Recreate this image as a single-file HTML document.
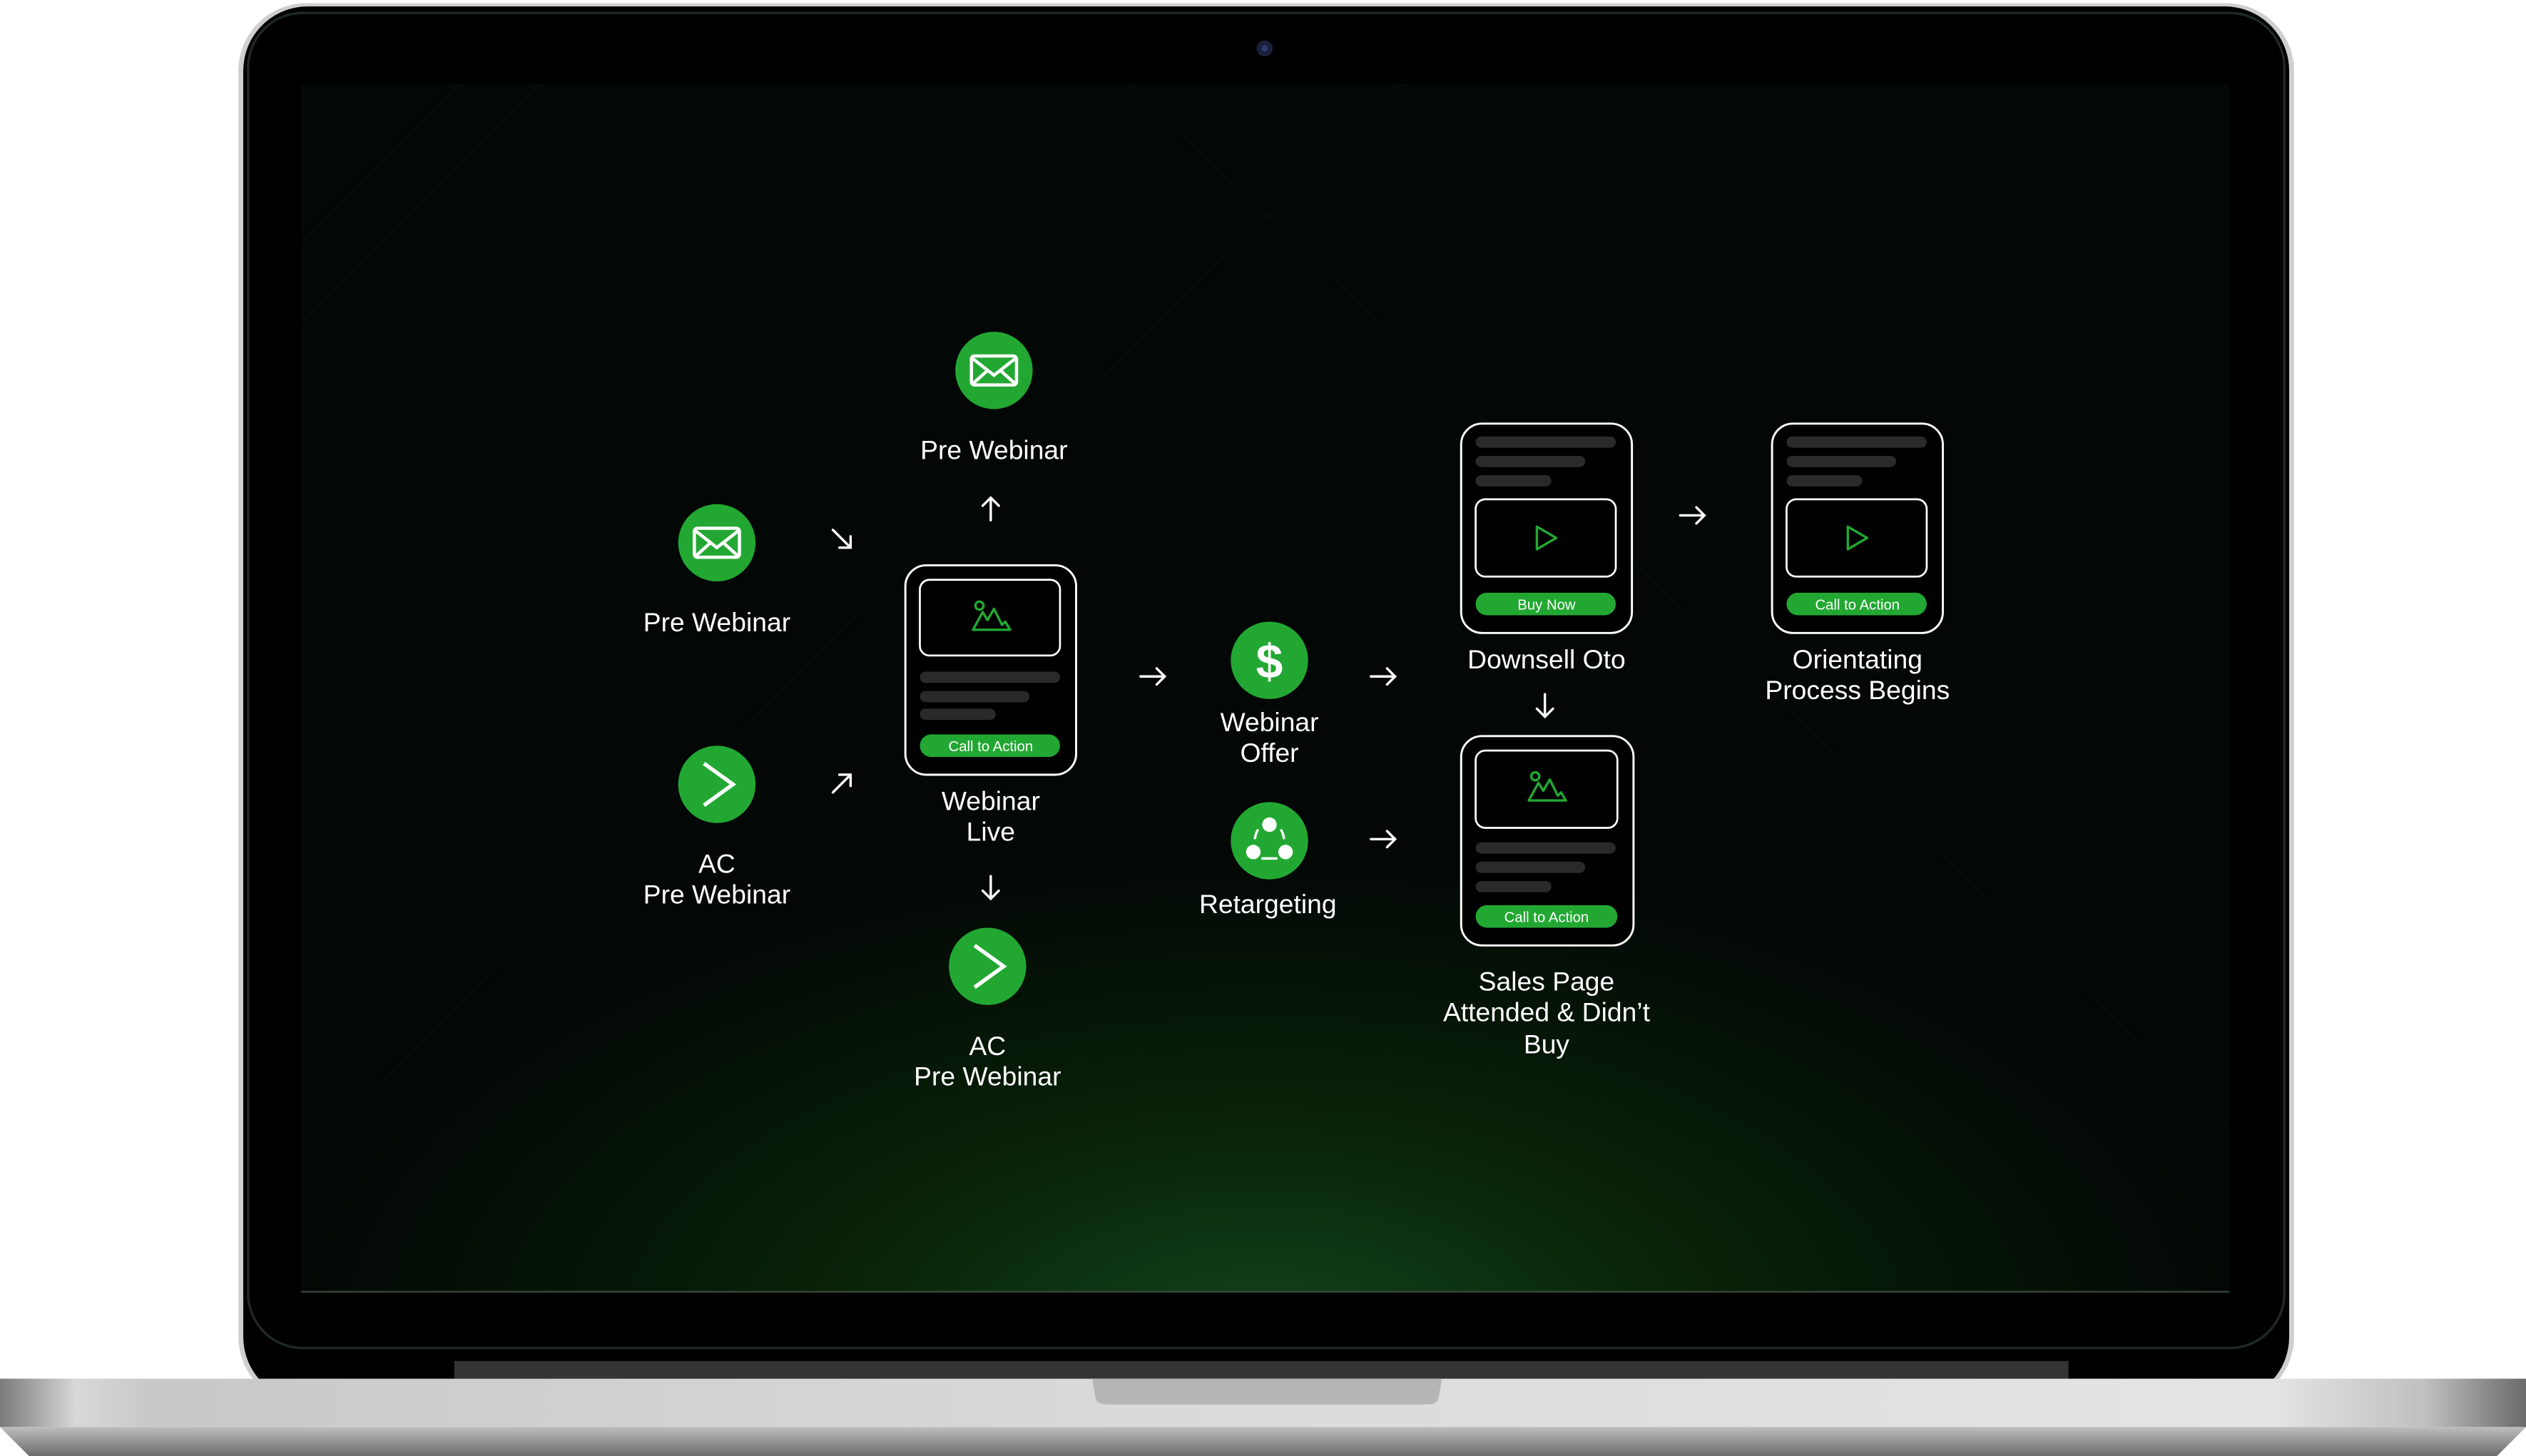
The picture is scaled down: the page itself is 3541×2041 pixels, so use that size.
<!DOCTYPE html>
<html><head><meta charset="utf-8">
<style>
html,body{margin:0;padding:0;background:#fff;}
svg{display:block;width:3541px;height:2041px;}
text{font-family:"Liberation Sans",sans-serif;fill:#fff;}
</style></head><body>
<svg viewBox="0 0 1568 904" preserveAspectRatio="none" xmlns="http://www.w3.org/2000/svg">
<defs>
<radialGradient id="glow" cx="785" cy="830" r="600" gradientUnits="userSpaceOnUse" gradientTransform="translate(785 830) scale(1 0.5) translate(-785 -830)">
<stop offset="0" stop-color="#11441a"/><stop offset="0.45" stop-color="#082208"/><stop offset="1" stop-color="#030705"/>
</radialGradient>
<linearGradient id="base" x1="0" x2="1" y1="0" y2="0">
<stop offset="0" stop-color="#7a7a7a"/><stop offset="0.03" stop-color="#d8d8d8"/><stop offset="0.06" stop-color="#c8c8c8"/><stop offset="0.45" stop-color="#dadada"/><stop offset="0.9" stop-color="#e4e4e4"/><stop offset="0.96" stop-color="#c0c0c0"/><stop offset="1" stop-color="#6a6a6a"/>
</linearGradient>
<linearGradient id="base2" x1="0" x2="0" y1="0" y2="1">
<stop offset="0" stop-color="#bdbdbd"/><stop offset="1" stop-color="#6c6c6c"/>
</linearGradient>
<g id="env"><circle r="24" fill="#22a832"/><rect x="-14" y="-9" width="28" height="18" rx="2" fill="none" stroke="#fff" stroke-width="2"/><path d="M-14 -8 L0 3 L14 -8 M-14 9 L-4 0 M14 9 L4 0" fill="none" stroke="#fff" stroke-width="2"/></g>
<g id="ac"><circle r="24" fill="#22a832"/><path d="M-8 -13 L10 0 L-8 13" fill="none" stroke="#fff" stroke-width="2.4"/></g>
<g id="img"><circle cx="-7" cy="-10" r="2.5" fill="none" stroke="#22a832" stroke-width="1.5"/><path d="M-11 5 L-5 -6 L-2 -1 L2 -8 L7 2 L9 0 L12 5 Z" fill="none" stroke="#22a832" stroke-width="1.5" stroke-linejoin="round"/></g>
</defs>

<rect x="148" y="2" width="1276" height="870" rx="42" fill="#cfcfcf"/>
<rect x="151" y="4" width="1270" height="866" rx="40" fill="#000"/>
<rect x="154" y="8" width="1264" height="829" rx="34" fill="none" stroke="#1f2a22" stroke-width="1.5"/>
<circle cx="785" cy="30" r="5" fill="#1a1f3a"/><circle cx="785" cy="30" r="2" fill="#2e3a70"/>
<rect x="187" y="52" width="1197" height="750" fill="url(#glow)"/>
<g stroke="#0c1c0f" stroke-width="1" opacity="0.35" fill="none">
<path d="M187 150 L285 52 M187 200 L335 52"/>
<path d="M700 52 L1384 700"/>
<path d="M870 52 L187 720"/>
</g>
<line x1="187" y1="802" x2="1384" y2="802" stroke="#3a4a3c" stroke-width="1"/>
<rect x="282" y="845" width="1002" height="11" fill="#343434"/>
<rect x="0" y="856" width="1568" height="30" fill="url(#base)"/>
<path d="M0 886 L1568 886 L1550 904 L18 904 Z" fill="url(#base2)"/>
<path d="M678 856 L895 856 L893 868 Q892 872 886 872 L687 872 Q681 872 680 868 Z" fill="#b5b5b5"/>

<use href="#env" x="617" y="230"/>
<use href="#env" x="445" y="337"/>
<use href="#ac" x="445" y="487"/>
<use href="#ac" x="613" y="600"/>
<circle cx="788" cy="410" r="24" fill="#22a832"/>
<text x="788" y="421" font-size="30" font-weight="bold" text-anchor="middle">$</text>
<circle cx="788" cy="522" r="24" fill="#22a832"/>
<g fill="#fff"><circle cx="788" cy="512" r="4.5"/><circle cx="778" cy="529" r="4.5"/><circle cx="798" cy="529" r="4.5"/></g>
<path d="M781 515 A12 12 0 0 0 779 521 M795 515 A12 12 0 0 1 797 521 M783 533 L793 533" stroke="#fff" stroke-width="1.5" fill="none"/>

<g font-size="16.5" text-anchor="middle">
<text x="617" y="285">Pre Webinar</text>
<text x="445" y="392">Pre Webinar</text>
<text x="445" y="542">AC</text><text x="445" y="561">Pre Webinar</text>
<text x="613" y="655">AC</text><text x="613" y="674">Pre Webinar</text>
<text x="615" y="503">Webinar</text><text x="615" y="522">Live</text>
<text x="788" y="454">Webinar</text><text x="788" y="473">Offer</text>
<text x="787" y="567">Retargeting</text>
<text x="960" y="415">Downsell Oto</text>
<text x="1153" y="415">Orientating</text><text x="1153" y="434">Process Begins</text>
<text x="960" y="615">Sales Page</text><text x="960" y="634">Attended &amp; Didn’t</text><text x="960" y="654">Buy</text>
</g>

<g stroke="#fff" stroke-width="1.5" fill="none" stroke-linecap="round">
<path d="M517 329 L528 340 M528 333 L528 340 L521 340"/>
<path d="M517 492 L528 481 M521 481 L528 481 L528 488"/>
<path d="M615 323 L615 309 M610 314 L615 309 L620 314"/>
<path d="M615 544 L615 558 M610 553 L615 558 L620 553"/>
<path d="M708 420 L723 420 M718 415 L723 420 L718 425"/>
<path d="M851 420 L866 420 M861 415 L866 420 L861 425"/>
<path d="M851 521 L866 521 M861 516 L866 521 L861 526"/>
<path d="M1043 320 L1058 320 M1053 315 L1058 320 L1053 325"/>
<path d="M959 431 L959 445 M954 440 L959 445 L964 440"/>
</g>

<rect x="562" y="351" width="106" height="130" rx="13" fill="#000" stroke="#fff" stroke-width="1.3"/>
<rect x="571" y="360" width="87" height="47" rx="6" fill="#000" stroke="#fff" stroke-width="1.2"/>
<use href="#img" x="615" y="386"/>
<g fill="#2a2a2a"><rect x="571" y="417" width="87" height="7" rx="3.5"/><rect x="571" y="429" width="68" height="7" rx="3.5"/><rect x="571" y="440" width="47" height="7" rx="3.5"/></g>
<rect x="571" y="456" width="87" height="14" rx="7" fill="#22a832"/>
<text x="615" y="466.5" font-size="9" text-anchor="middle">Call to Action</text>

<rect x="907" y="263" width="106" height="130" rx="13" fill="#000" stroke="#fff" stroke-width="1.3"/>
<g fill="#2a2a2a"><rect x="916" y="271" width="87" height="7" rx="3.5"/><rect x="916" y="283" width="68" height="7" rx="3.5"/><rect x="916" y="295" width="47" height="7" rx="3.5"/></g>
<rect x="916" y="310" width="87" height="48" rx="6" fill="#000" stroke="#fff" stroke-width="1.2"/>
<path d="M954 327 L966 334 L954 341 Z" fill="none" stroke="#22a832" stroke-width="1.5" stroke-linejoin="round"/>
<rect x="916" y="368" width="87" height="14" rx="7" fill="#22a832"/>
<text x="960" y="378.5" font-size="9" text-anchor="middle">Buy Now</text>

<rect x="1100" y="263" width="106" height="130" rx="13" fill="#000" stroke="#fff" stroke-width="1.3"/>
<g fill="#2a2a2a"><rect x="1109" y="271" width="87" height="7" rx="3.5"/><rect x="1109" y="283" width="68" height="7" rx="3.5"/><rect x="1109" y="295" width="47" height="7" rx="3.5"/></g>
<rect x="1109" y="310" width="87" height="48" rx="6" fill="#000" stroke="#fff" stroke-width="1.2"/>
<path d="M1147 327 L1159 334 L1147 341 Z" fill="none" stroke="#22a832" stroke-width="1.5" stroke-linejoin="round"/>
<rect x="1109" y="368" width="87" height="14" rx="7" fill="#22a832"/>
<text x="1153" y="378.5" font-size="9" text-anchor="middle">Call to Action</text>

<rect x="907" y="457" width="107" height="130" rx="13" fill="#000" stroke="#fff" stroke-width="1.3"/>
<rect x="916" y="466" width="88" height="48" rx="6" fill="#000" stroke="#fff" stroke-width="1.2"/>
<use href="#img" x="960" y="492"/>
<g fill="#2a2a2a"><rect x="916" y="523" width="87" height="7" rx="3.5"/><rect x="916" y="535" width="68" height="7" rx="3.5"/><rect x="916" y="547" width="47" height="7" rx="3.5"/></g>
<rect x="916" y="562" width="88" height="14" rx="7" fill="#22a832"/>
<text x="960" y="572.5" font-size="9" text-anchor="middle">Call to Action</text>
</svg>
</body></html>
